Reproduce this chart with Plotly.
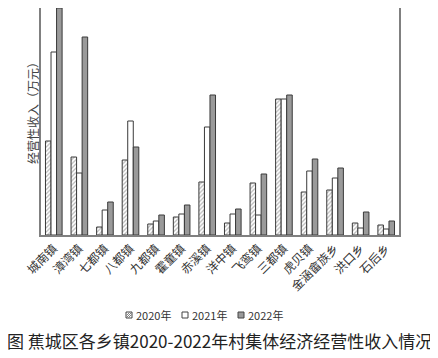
import plotly.graph_objects as go

towns = ["城南镇", "漳湾镇", "七都镇", "八都镇", "九都镇", "霍童镇", "赤溪镇",
         "洋中镇", "飞鸾镇", "三都镇", "虎贝镇", "金涵畲族乡", "洪口乡", "石后乡"]
v2020 = [94, 78, 8, 75, 11, 18, 53, 12, 52, 136, 43, 45, 12, 10]
v2021 = [183, 62, 25, 114, 14, 21, 108, 21, 20, 136, 64, 57, 7, 6]
v2022 = [227, 198, 33, 88, 20, 30, 140, 26, 61, 140, 76, 67, 23, 14]
series_names = ["2020年", "2021年", "2022年"]

# page has an 8px body margin; figure occupies page pixels 8..438 x 8..358
OFF = 8
W, H = 438 - OFF, 358 - OFF
ML = 41 - OFF
MR = W - (399 - OFF)
MT = 0
MB = H - (235 - OFF)
plot_w = W - ML - MR
plot_h = H - MT - MB

def page_to_paper(px, py):
    fx, fy = px - OFF, py - OFF
    return (fx - ML) / plot_w, (H - MB - fy) / plot_h

edge = "#3a3a3a"
fills = ["white", "white", "#9a9a9a"]
fig = go.Figure()
fig.add_trace(go.Bar(x=towns, y=v2020, name=series_names[0],
                     marker=dict(color="white", line=dict(color=edge, width=1),
                                 pattern=dict(shape="/", fgcolor="#707070", bgcolor="white",
                                              size=3, solidity=0.4))))
fig.add_trace(go.Bar(x=towns, y=v2021, name=series_names[1],
                     marker=dict(color="white", line=dict(color=edge, width=1))))
fig.add_trace(go.Bar(x=towns, y=v2022, name=series_names[2],
                     marker=dict(color=fills[2], line=dict(color=edge, width=1))))

ax, ay = page_to_paper(32, 110)
cx, cy = page_to_paper(219, 340)

annotations = [
    dict(text="经营性收入（万元）", textangle=-90, x=ax, y=ay, xref="paper", yref="paper",
         xanchor="center", yanchor="middle",
         showarrow=False, font=dict(size=12, color="#444444")),
    dict(text="图 蕉城区各乡镇2020-2022年村集体经济经营性收入情况", x=cx, y=cy,
         xref="paper", yref="paper", xanchor="center", yanchor="middle", showarrow=False,
         font=dict(size=17, color="#222222", family="Noto Sans CJK SC")),
]
shapes = []
# compact legend (symbol square + label)
leg_sym_x = [129, 185, 241]
leg_y = 315
for i, name in enumerate(series_names):
    x0, y0 = page_to_paper(leg_sym_x[i] - 3, leg_y + 3)
    x1, y1 = page_to_paper(leg_sym_x[i] + 3, leg_y - 3)
    shapes.append(dict(type="rect", xref="paper", yref="paper", x0=x0, y0=y0, x1=x1, y1=y1,
                       fillcolor=fills[i], line=dict(color="#444444", width=1)))
    if i == 0:
        for k in (-2, 0, 2):
            # short diagonal hatch lines inside the square
            sx = leg_sym_x[i] - 3 + max(k, 0) + 0.5
            sy = leg_y + 3 - max(-k, 0) - 0.5
            ex = leg_sym_x[i] + 3 + min(k, 0) - 0.5
            ey = leg_y - 3 + max(k, 0) + 0.5
            a0, b0 = page_to_paper(sx, sy)
            a1, b1 = page_to_paper(ex, ey)
            shapes.append(dict(type="line", xref="paper", yref="paper",
                               x0=a0, y0=b0, x1=a1, y1=b1,
                               line=dict(color="#666666", width=0.8)))
    tx, ty = page_to_paper(leg_sym_x[i] + 5, leg_y)
    annotations.append(dict(text=name, x=tx, y=ty, xref="paper", yref="paper",
                            xanchor="left", yanchor="middle", showarrow=False,
                            font=dict(size=11, color="#333333", family="Noto Sans CJK SC")))

fig.update_layout(
    width=W, height=H,
    margin=dict(l=ML, r=MR, t=MT, b=MB, autoexpand=False),
    paper_bgcolor="white", plot_bgcolor="white",
    barmode="group", bargap=0.35, bargroupgap=0,
    font=dict(family="Noto Sans CJK SC", color="#333333"),
    showlegend=False,
    xaxis=dict(showline=True, linecolor="#808080", linewidth=1.5, ticks="",
               tickangle=-45, tickfont=dict(size=12, family="Noto Sans CJK SC", color="#333333"),
               showgrid=False, mirror=False, automargin=False),
    yaxis=dict(showline=True, linecolor="#808080", linewidth=1.5, mirror=True,
               showticklabels=False, ticks="", showgrid=False, range=[0, 235 - OFF],
               zeroline=False, automargin=False),
    annotations=annotations,
    shapes=shapes,
)

fig.write_html("out.html")
